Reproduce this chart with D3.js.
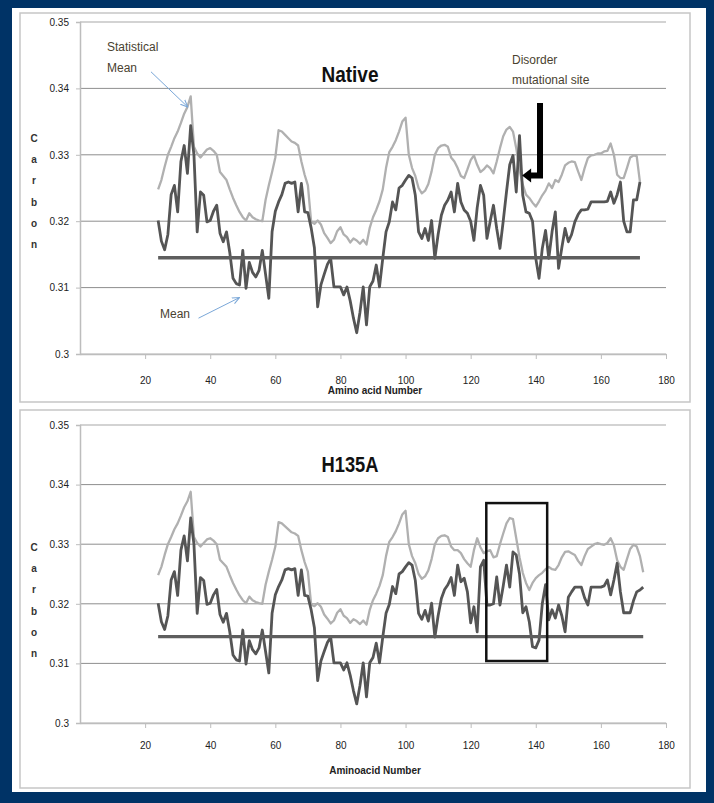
<!DOCTYPE html>
<html><head><meta charset="utf-8">
<script src="https://cdn.jsdelivr.net/npm/d3@7"></script>
<style>body{margin:0;background:#fff}svg text{font-family:"Liberation Sans Narrow","Liberation Sans",Arial,sans-serif}</style>
</head><body>
<svg id="c" width="714" height="803"></svg>
<script>
// ---------- DATA ----------
const startNative = 24;
const startMutant = 24;
const yTicks = [0.30, 0.31, 0.32, 0.33, 0.34, 0.35];
const xTicks = [20, 40, 60, 80, 100, 120, 140, 160, 180];
const meanValue = 0.3145;

// Native: statistical mean (light), residues 24..172
const nativeStat = [
.3248,.3262,.3282,.3300,.3312,.3325,.3335,.3348,.3362,.3372,.3388,.3312,.3302,.3296,.3302,.3308,.3310,.3306,.3300,.3274,
.3268,.3262,.3248,.3235,.3224,.3214,.3206,.3201,.3212,.3206,.3203,.3201,.3200,.3232,.3254,.3274,.3296,.3337,.3335,.3330,
.3325,.3320,.3318,.3314,.3290,.3270,.3254,.3199,.3196,.3201,.3195,.3182,.3175,.3167,.3172,.3185,.3191,.3180,.3176,.3168,
.3174,.3171,.3166,.3172,.3165,.3190,.3206,.3217,.3230,.3248,.3280,.3304,.3312,.3322,.3335,.3350,.3356,.3300,.3280,.3268,
.3250,.3242,.3246,.3256,.3275,.3300,.3310,.3314,.3315,.3312,.3296,.3290,.3280,.3268,.3265,.3278,.3292,.3299,.3285,.3274,
.3278,.3284,.3280,.3272,.3290,.3310,.3328,.3338,.3342,.3335,.3310,.3278,.3255,.3240,.3235,.3228,.3222,.3230,.3239,.3246,
.3257,.3250,.3262,.3259,.3270,.3284,.3288,.3290,.3289,.3275,.3262,.3280,.3295,.3299,.3300,.3302,.3302,.3305,.3306,.3317,
.3300,.3270,.3265,.3265,.3280,.3296,.3299,.3298,.3259];

// Native: per-residue (dark), residues 24..172
const nativeRes = [
.3201,.3170,.3157,.3180,.3240,.3254,.3214,.3290,.3314,.3272,.3344,.3300,.3184,.3244,.3239,.3199,.3201,.3215,.3224,.3182,
.3169,.3184,.3153,.3114,.3106,.3104,.3156,.3099,.3138,.3123,.3116,.3126,.3156,.3120,.3084,.3184,.3215,.3229,.3240,.3257,
.3259,.3257,.3259,.3214,.3257,.3214,.3213,.3190,.3160,.3071,.3104,.3120,.3135,.3144,.3101,.3101,.3101,.3089,.3101,.3080,
.3054,.3032,.3063,.3101,.3044,.3101,.3110,.3134,.3101,.3144,.3184,.3199,.3229,.3217,.3250,.3254,.3262,.3269,.3265,.3239,
.3184,.3174,.3189,.3171,.3201,.3144,.3180,.3209,.3224,.3232,.3244,.3214,.3257,.3229,.3217,.3212,.3200,.3171,.3220,.3254,
.3239,.3174,.3200,.3224,.3189,.3159,.3200,.3244,.3285,.3299,.3244,.3329,.3239,.3214,.3212,.3200,.3144,.3114,.3159,.3186,
.3144,.3184,.3214,.3129,.3160,.3189,.3169,.3180,.3199,.3210,.3217,.3217,.3218,.3229,.3229,.3229,.3229,.3229,.3230,.3244,
.3227,.3240,.3259,.3200,.3184,.3184,.3232,.3232,.3259];

// H135A: statistical mean (light), residues 24..173
const mutantStat = [
.3248,.3262,.3282,.3300,.3312,.3325,.3335,.3348,.3362,.3372,.3388,.3312,.3302,.3296,.3302,.3308,.3310,.3306,.3300,.3274,
.3268,.3262,.3248,.3235,.3224,.3214,.3206,.3201,.3212,.3206,.3203,.3201,.3200,.3232,.3254,.3274,.3296,.3337,.3335,.3330,
.3325,.3320,.3318,.3314,.3290,.3270,.3254,.3199,.3196,.3201,.3195,.3182,.3175,.3167,.3172,.3185,.3191,.3180,.3176,.3168,
.3174,.3171,.3166,.3172,.3165,.3190,.3206,.3217,.3230,.3248,.3280,.3304,.3312,.3322,.3335,.3350,.3356,.3300,.3280,.3268,
.3250,.3242,.3246,.3256,.3275,.3300,.3310,.3314,.3315,.3312,.3296,.3290,.3290,.3285,.3275,.3268,.3262,.3290,.3310,.3295,
.3285,.3288,.3290,.3278,.3280,.3300,.3318,.3335,.3344,.3342,.3310,.3278,.3252,.3235,.3223,.3235,.3243,.3248,.3252,.3258,
.3262,.3258,.3257,.3265,.3278,.3287,.3288,.3285,.3282,.3272,.3265,.3280,.3292,.3296,.3300,.3302,.3300,.3299,.3302,.3310,
.3298,.3273,.3262,.3257,.3275,.3292,.3299,.3296,.3280,.3253];

// H135A: per-residue (dark), residues 24..173
const mutantRes = [
.3201,.3170,.3157,.3180,.3240,.3254,.3214,.3290,.3314,.3272,.3344,.3300,.3184,.3244,.3239,.3199,.3201,.3215,.3224,.3182,
.3169,.3184,.3153,.3114,.3106,.3104,.3156,.3099,.3138,.3123,.3116,.3126,.3156,.3120,.3084,.3184,.3215,.3229,.3240,.3257,
.3259,.3257,.3259,.3214,.3257,.3214,.3213,.3190,.3160,.3071,.3104,.3120,.3135,.3144,.3101,.3101,.3101,.3089,.3101,.3080,
.3054,.3032,.3063,.3101,.3044,.3101,.3110,.3134,.3101,.3144,.3184,.3199,.3229,.3217,.3250,.3254,.3262,.3269,.3265,.3239,
.3184,.3174,.3189,.3171,.3201,.3144,.3180,.3209,.3224,.3232,.3244,.3214,.3265,.3237,.3243,.3220,.3168,.3195,.3153,.3262,
.3273,.3198,.3198,.3200,.3245,.3198,.3230,.3265,.3228,.3287,.3282,.3250,.3185,.3195,.3170,.3128,.3126,.3139,.3200,.3232,
.3173,.3190,.3176,.3198,.3180,.3153,.3211,.3220,.3228,.3228,.3228,.3210,.3198,.3228,.3228,.3228,.3228,.3230,.3240,.3215,
.3240,.3268,.3220,.3185,.3185,.3185,.3205,.3220,.3223,.3228];

// ---------- DRAW ----------
const svg = d3.select("#c");
svg.append("rect").attr("width",714).attr("height",803).attr("fill","#003366");
svg.append("rect").attr("x",12).attr("y",8).attr("width",694).attr("height",784).attr("fill","#fff");

function toPts(arr, start){ return arr.map((v,i)=>({x:start+i, y:v})); }

function panel(cfg){
  const g = svg.append("g");
  g.append("rect").attr("x",cfg.px).attr("y",cfg.py).attr("width",cfg.pw).attr("height",cfg.ph)
    .attr("fill","#fff").attr("stroke","#c6c6c6").attr("stroke-width",1.5);
  const x = d3.scaleLinear().domain([0,180]).range([80,666]);
  const y = d3.scaleLinear().domain([0.30,0.35]).range([cfg.y0,cfg.y1]);
  g.selectAll(".grid").data(yTicks).join("line")
    .attr("x1",80).attr("x2",666).attr("y1",d=>y(d)).attr("y2",d=>y(d))
    .attr("stroke",d=>d===0.35?"#c4c4c4":(d===0.30?"#bdbdbd":"#8e8e8e")).attr("stroke-width",d=>d===0.35?1.6:1);
  const ya = g.append("g").attr("transform","translate(80,0)")
    .call(d3.axisLeft(y).tickValues(yTicks).tickSize(4).tickFormat(d=>d===0.3?"0.3":d3.format(".2f")(d)));
  ya.select(".domain").attr("stroke","#bdbdbd").attr("stroke-width",1.5);
  ya.selectAll(".tick line").attr("stroke","#bdbdbd");
  ya.selectAll("text").attr("font-size",10).attr("fill","#222").attr("dx",-4);
  const xa = g.append("g").attr("transform",`translate(0,${cfg.y0})`)
    .call(d3.axisBottom(x).tickValues(xTicks).tickSize(5).tickSizeOuter(0));
  xa.select(".domain").attr("stroke","#bdbdbd").attr("stroke-width",1.5);
  xa.selectAll(".tick line").attr("stroke","#bdbdbd");
  xa.selectAll("text").attr("font-size",10).attr("fill","#222").attr("dy",cfg.xdy);
  const line = d3.line().x(d=>x(d.x)).y(d=>y(d.y));
  g.append("path").datum(toPts(cfg.stat,cfg.start)).attr("d",line)
    .attr("fill","none").attr("stroke","#b0b0b0").attr("stroke-width",2.3).attr("stroke-linejoin","round");
  g.append("path").datum(toPts(cfg.res,cfg.start)).attr("d",line)
    .attr("fill","none").attr("stroke","#555").attr("stroke-width",2.8).attr("stroke-linejoin","round");
  const last = cfg.start + cfg.res.length - 1;
  g.append("line").attr("x1",x(cfg.start)).attr("x2",x(last)).attr("y1",y(meanValue)).attr("y2",y(meanValue))
    .attr("stroke","#5e5e5e").attr("stroke-width",3.4);
  g.append("text").attr("x",350).attr("y",cfg.titleY).attr("text-anchor","middle")
    .attr("font-size",22).attr("font-weight","bold").attr("fill","#111")
    .attr("textLength",57).attr("lengthAdjust","spacingAndGlyphs").text(cfg.title);
  const letters = "Carbon".split("");
  g.selectAll(".yl").data(letters).join("text").attr("x",34).attr("y",(d,i)=>cfg.ylab+i*21.2)
    .attr("text-anchor","middle").attr("font-size",10).attr("font-weight","bold").attr("fill","#333").text(d=>d);
  g.append("text").attr("x",375).attr("y",cfg.xlabY).attr("text-anchor","middle")
    .attr("font-size",10).attr("font-weight","bold").attr("fill","#222").text(cfg.xlab);
  return {g,x,y};
}

const topP = panel({px:20,py:13,pw:670,ph:389,y0:354,y1:22,stat:nativeStat,res:nativeRes,start:startNative,
  title:"Native",titleY:82,ylab:142,xlab:"Amino acid Number",xlabY:394,xdy:"2.15em"});
const botP = panel({px:20,py:410,pw:670,ph:378,y0:723,y1:425,stat:mutantStat,res:mutantRes,start:startMutant,
  title:"H135A",titleY:472,ylab:551,xlab:"Aminoacid Number",xlabY:774,xdy:"1.75em"});

const defs = svg.append("defs");
defs.append("marker").attr("id","ah").attr("viewBox","0 0 10 10").attr("refX",9).attr("refY",5)
  .attr("markerWidth",8).attr("markerHeight",8).attr("orient","auto")
  .append("path").attr("d","M0,1 L9,5 L0,9").attr("fill","none").attr("stroke","#7aa7d8").attr("stroke-width",1.3);
const tg = topP.g;
const annColor = "#4a4230";
tg.append("text").attr("x",107).attr("y",51).attr("font-size",12).attr("fill",annColor).text("Statistical");
tg.append("text").attr("x",107).attr("y",72).attr("font-size",12).attr("fill",annColor).text("Mean");
tg.append("line").attr("x1",topP.x(21.8)).attr("y1",topP.y(0.3425)).attr("x2",topP.x(33.1)).attr("y2",topP.y(0.3372))
  .attr("stroke","#7aa7d8").attr("stroke-width",1).attr("marker-end","url(#ah)");
tg.append("text").attr("x",160).attr("y",318).attr("font-size",12).attr("fill",annColor).text("Mean");
tg.append("line").attr("x1",topP.x(36.4)).attr("y1",topP.y(0.3054)).attr("x2",topP.x(49)).attr("y2",topP.y(0.3085))
  .attr("stroke","#7aa7d8").attr("stroke-width",1).attr("marker-end","url(#ah)");
tg.append("text").attr("x",512).attr("y",64).attr("font-size",12).attr("fill",annColor).text("Disorder");
tg.append("text").attr("x",512).attr("y",84).attr("font-size",12).attr("fill",annColor).text("mutational site");
const ax = topP.x(141.3), ay0 = topP.y(0.3378), ay1 = topP.y(0.3269), tipX = topP.x(135.8);
tg.append("path").attr("d",`M${ax},${ay0} L${ax},${ay1} L${tipX+8},${ay1}`)
  .attr("fill","none").attr("stroke","#000").attr("stroke-width",6);
tg.append("path").attr("d",`M${tipX},${ay1} L${tipX+9},${ay1-7} L${tipX+9},${ay1+7} Z`).attr("fill","#000");

botP.g.append("rect").attr("x",botP.x(124.8)).attr("y",botP.y(0.3369))
  .attr("width",botP.x(143.5)-botP.x(124.8)).attr("height",botP.y(0.3104)-botP.y(0.3369))
  .attr("fill","none").attr("stroke","#111").attr("stroke-width",2.5);
</script>
</body></html>
